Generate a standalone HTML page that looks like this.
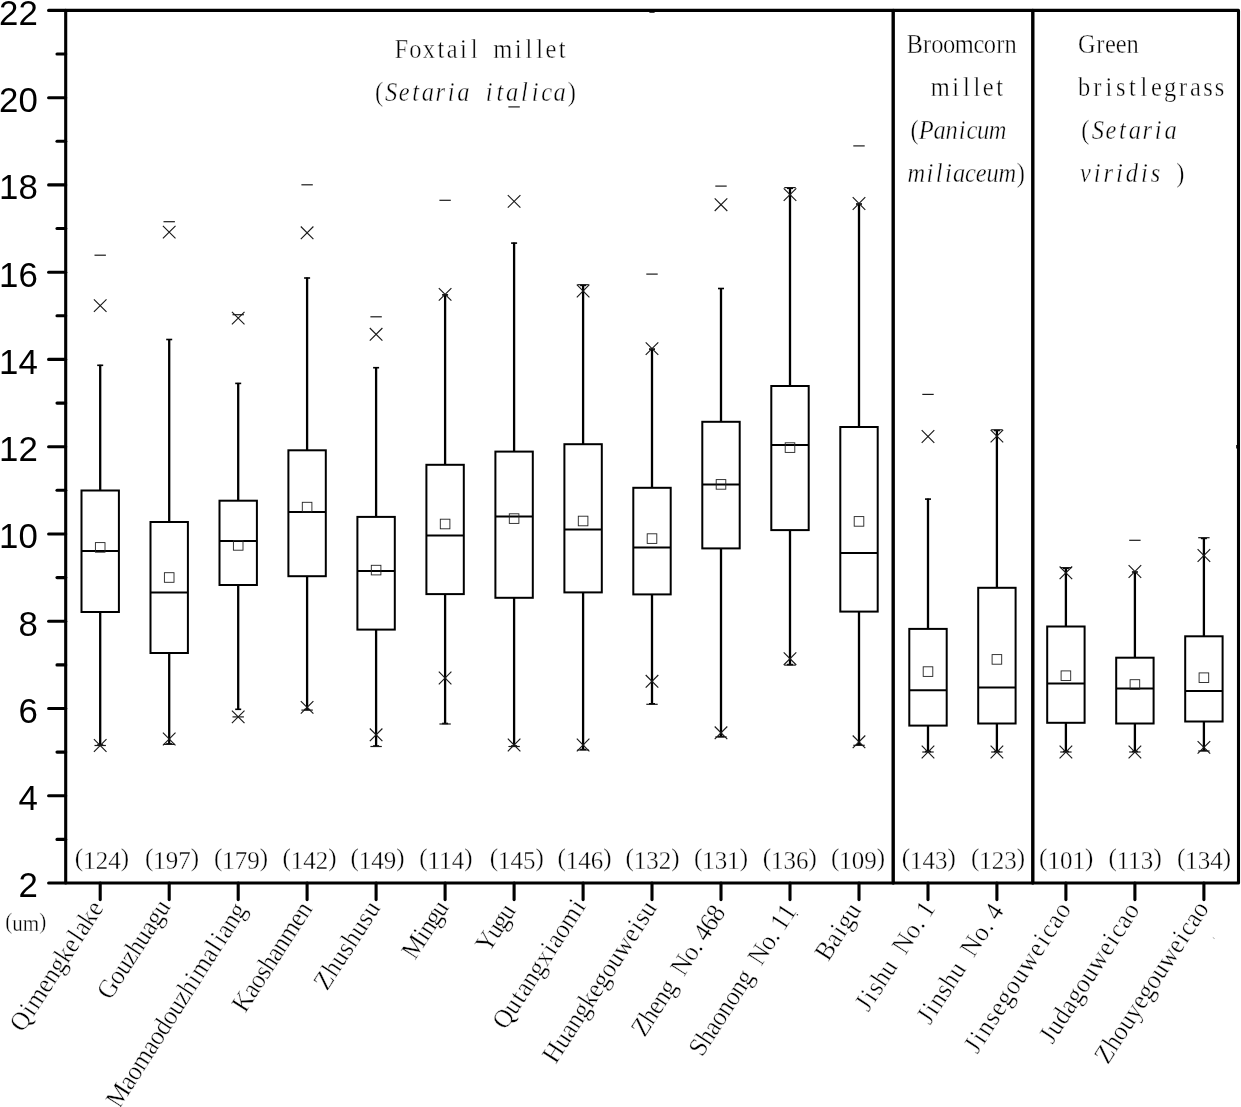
<!DOCTYPE html>
<html lang="en"><head><meta charset="utf-8"><title>Grain size box plot</title>
<style>html,body{margin:0;padding:0;background:#fff}body{width:1241px;height:1107px;overflow:hidden}svg{display:block}.ax{font-family:"Liberation Sans",sans-serif;font-size:34.8px;fill:#000}.sf{font-family:"Liberation Serif",serif;font-size:24px;fill:#000;stroke:#fff;stroke-width:0.35px}.it{font-style:italic}</style></head><body>
<svg width="1241" height="1107" viewBox="0 0 1241 1107">
<rect width="1241" height="1107" fill="#fff"/>
<g stroke="#000" fill="none" stroke-linecap="round" stroke-linejoin="round" stroke-width="3.1">
<rect x="65.7" y="10.4" width="1172.8" height="872.6"/>
<line x1="893.2" y1="10.4" x2="893.2" y2="883.0" stroke-width="3.4"/>
<line x1="1032.8" y1="10.4" x2="1032.8" y2="883.0" stroke-width="3.4"/>
<line x1="48.6" y1="883.0" x2="65.7" y2="883.0"/>
<line x1="57" y1="839.4" x2="65.7" y2="839.4"/>
<line x1="48.6" y1="795.7" x2="65.7" y2="795.7"/>
<line x1="57" y1="752.1" x2="65.7" y2="752.1"/>
<line x1="48.6" y1="708.5" x2="65.7" y2="708.5"/>
<line x1="57" y1="664.9" x2="65.7" y2="664.9"/>
<line x1="48.6" y1="621.2" x2="65.7" y2="621.2"/>
<line x1="57" y1="577.6" x2="65.7" y2="577.6"/>
<line x1="48.6" y1="534.0" x2="65.7" y2="534.0"/>
<line x1="57" y1="490.3" x2="65.7" y2="490.3"/>
<line x1="48.6" y1="446.7" x2="65.7" y2="446.7"/>
<line x1="57" y1="403.1" x2="65.7" y2="403.1"/>
<line x1="48.6" y1="359.4" x2="65.7" y2="359.4"/>
<line x1="57" y1="315.8" x2="65.7" y2="315.8"/>
<line x1="48.6" y1="272.2" x2="65.7" y2="272.2"/>
<line x1="57" y1="228.5" x2="65.7" y2="228.5"/>
<line x1="48.6" y1="184.9" x2="65.7" y2="184.9"/>
<line x1="57" y1="141.3" x2="65.7" y2="141.3"/>
<line x1="48.6" y1="97.7" x2="65.7" y2="97.7"/>
<line x1="57" y1="54.0" x2="65.7" y2="54.0"/>
<line x1="48.6" y1="10.4" x2="65.7" y2="10.4"/>
<line x1="100.2" y1="883.0" x2="100.2" y2="899.6"/>
<line x1="169.2" y1="883.0" x2="169.2" y2="899.6"/>
<line x1="238.2" y1="883.0" x2="238.2" y2="899.6"/>
<line x1="307.1" y1="883.0" x2="307.1" y2="899.6"/>
<line x1="376.1" y1="883.0" x2="376.1" y2="899.6"/>
<line x1="445.1" y1="883.0" x2="445.1" y2="899.6"/>
<line x1="514.1" y1="883.0" x2="514.1" y2="899.6"/>
<line x1="583.1" y1="883.0" x2="583.1" y2="899.6"/>
<line x1="652.0" y1="883.0" x2="652.0" y2="899.6"/>
<line x1="721.0" y1="883.0" x2="721.0" y2="899.6"/>
<line x1="790.0" y1="883.0" x2="790.0" y2="899.6"/>
<line x1="859.0" y1="883.0" x2="859.0" y2="899.6"/>
<line x1="928.0" y1="883.0" x2="928.0" y2="899.6"/>
<line x1="996.9" y1="883.0" x2="996.9" y2="899.6"/>
<line x1="1065.9" y1="883.0" x2="1065.9" y2="899.6"/>
<line x1="1134.9" y1="883.0" x2="1134.9" y2="899.6"/>
<line x1="1203.9" y1="883.0" x2="1203.9" y2="899.6"/>
<line x1="1236.2" y1="446.7" x2="1237.2" y2="446.7" stroke-width="3.4" stroke-linecap="butt"/>
</g>
<g stroke="#000" fill="none">
<line x1="100.2" y1="364.8" x2="100.2" y2="490.5" stroke-width="2.3"/>
<line x1="100.2" y1="612.0" x2="100.2" y2="745.5" stroke-width="2.3"/>
<line x1="97.2" y1="365.3" x2="103.2" y2="365.3" stroke-width="1.6"/>
<line x1="97.2" y1="745.0" x2="103.2" y2="745.0" stroke-width="1.6"/>
<rect x="81.5" y="490.5" width="37.4" height="121.5" stroke-width="2"/>
<line x1="81.5" y1="551.1" x2="118.9" y2="551.1" stroke-width="2"/>
<rect x="95.4" y="542.6" width="9.6" height="9.6" stroke-width="0.9" stroke="#222"/>
<path d="M93.9 299.3 l12.6 12.6 m0 -12.6 l-12.6 12.6" stroke-width="1.15" stroke="#1a1a1a"/>
<path d="M93.9 739.2 l12.6 12.6 m0 -12.6 l-12.6 12.6" stroke-width="1.15" stroke="#1a1a1a"/>
<line x1="94.5" y1="745.5" x2="105.9" y2="745.5" stroke-width="1.2" stroke="#1a1a1a"/>
<line x1="94.5" y1="255.2" x2="105.9" y2="255.2" stroke-width="1.2" stroke="#1a1a1a"/>
<line x1="169.2" y1="339.0" x2="169.2" y2="522.0" stroke-width="2.3"/>
<line x1="169.2" y1="653.0" x2="169.2" y2="744.4" stroke-width="2.3"/>
<line x1="166.2" y1="339.5" x2="172.2" y2="339.5" stroke-width="1.6"/>
<line x1="166.2" y1="743.9" x2="172.2" y2="743.9" stroke-width="1.6"/>
<rect x="150.5" y="522.0" width="37.4" height="131.0" stroke-width="2"/>
<line x1="150.5" y1="592.4" x2="187.9" y2="592.4" stroke-width="2"/>
<rect x="164.4" y="572.7" width="9.6" height="9.6" stroke-width="0.9" stroke="#222"/>
<path d="M162.9 225.8 l12.6 12.6 m0 -12.6 l-12.6 12.6" stroke-width="1.15" stroke="#1a1a1a"/>
<path d="M162.9 732.7 l12.6 12.6 m0 -12.6 l-12.6 12.6" stroke-width="1.15" stroke="#1a1a1a"/>
<line x1="163.5" y1="744.4" x2="174.9" y2="744.4" stroke-width="1.2" stroke="#1a1a1a"/>
<line x1="163.5" y1="221.7" x2="174.9" y2="221.7" stroke-width="1.2" stroke="#1a1a1a"/>
<line x1="238.2" y1="382.9" x2="238.2" y2="500.7" stroke-width="2.3"/>
<line x1="238.2" y1="585.0" x2="238.2" y2="709.8" stroke-width="2.3"/>
<line x1="235.2" y1="383.4" x2="241.2" y2="383.4" stroke-width="1.6"/>
<line x1="235.2" y1="709.3" x2="241.2" y2="709.3" stroke-width="1.6"/>
<rect x="219.5" y="500.7" width="37.4" height="84.3" stroke-width="2"/>
<line x1="219.5" y1="541.0" x2="256.9" y2="541.0" stroke-width="2"/>
<rect x="233.4" y="540.6" width="9.6" height="9.6" stroke-width="0.9" stroke="#222"/>
<path d="M231.9 311.8 l12.6 12.6 m0 -12.6 l-12.6 12.6" stroke-width="1.15" stroke="#1a1a1a"/>
<path d="M231.9 710.6 l12.6 12.6 m0 -12.6 l-12.6 12.6" stroke-width="1.15" stroke="#1a1a1a"/>
<line x1="232.5" y1="716.9" x2="243.9" y2="716.9" stroke-width="1.2" stroke="#1a1a1a"/>
<line x1="232.5" y1="314.7" x2="243.9" y2="314.7" stroke-width="1.2" stroke="#1a1a1a"/>
<line x1="307.1" y1="277.5" x2="307.1" y2="450.3" stroke-width="2.3"/>
<line x1="307.1" y1="576.2" x2="307.1" y2="710.1" stroke-width="2.3"/>
<line x1="304.1" y1="278.0" x2="310.1" y2="278.0" stroke-width="1.6"/>
<line x1="304.1" y1="709.6" x2="310.1" y2="709.6" stroke-width="1.6"/>
<rect x="288.4" y="450.3" width="37.4" height="125.9" stroke-width="2"/>
<line x1="288.4" y1="511.9" x2="325.8" y2="511.9" stroke-width="2"/>
<rect x="302.3" y="502.3" width="9.6" height="9.6" stroke-width="0.9" stroke="#222"/>
<path d="M300.8 226.5 l12.6 12.6 m0 -12.6 l-12.6 12.6" stroke-width="1.15" stroke="#1a1a1a"/>
<path d="M300.8 701.1 l12.6 12.6 m0 -12.6 l-12.6 12.6" stroke-width="1.15" stroke="#1a1a1a"/>
<line x1="301.4" y1="710.1" x2="312.8" y2="710.1" stroke-width="1.2" stroke="#1a1a1a"/>
<line x1="301.4" y1="184.8" x2="312.8" y2="184.8" stroke-width="1.2" stroke="#1a1a1a"/>
<line x1="376.1" y1="367.2" x2="376.1" y2="516.9" stroke-width="2.3"/>
<line x1="376.1" y1="629.6" x2="376.1" y2="746.5" stroke-width="2.3"/>
<line x1="373.1" y1="367.7" x2="379.1" y2="367.7" stroke-width="1.6"/>
<line x1="373.1" y1="746.0" x2="379.1" y2="746.0" stroke-width="1.6"/>
<rect x="357.4" y="516.9" width="37.4" height="112.7" stroke-width="2"/>
<line x1="357.4" y1="571.1" x2="394.8" y2="571.1" stroke-width="2"/>
<rect x="371.3" y="565.3" width="9.6" height="9.6" stroke-width="0.9" stroke="#222"/>
<path d="M369.8 328.0 l12.6 12.6 m0 -12.6 l-12.6 12.6" stroke-width="1.15" stroke="#1a1a1a"/>
<path d="M369.8 728.5 l12.6 12.6 m0 -12.6 l-12.6 12.6" stroke-width="1.15" stroke="#1a1a1a"/>
<line x1="370.4" y1="746.5" x2="381.8" y2="746.5" stroke-width="1.2" stroke="#1a1a1a"/>
<line x1="370.4" y1="316.8" x2="381.8" y2="316.8" stroke-width="1.2" stroke="#1a1a1a"/>
<line x1="445.1" y1="294.4" x2="445.1" y2="464.8" stroke-width="2.3"/>
<line x1="445.1" y1="594.1" x2="445.1" y2="724.0" stroke-width="2.3"/>
<line x1="442.1" y1="294.9" x2="448.1" y2="294.9" stroke-width="1.6"/>
<line x1="442.1" y1="723.5" x2="448.1" y2="723.5" stroke-width="1.6"/>
<rect x="426.4" y="464.8" width="37.4" height="129.3" stroke-width="2"/>
<line x1="426.4" y1="535.5" x2="463.8" y2="535.5" stroke-width="2"/>
<rect x="440.3" y="519.2" width="9.6" height="9.6" stroke-width="0.9" stroke="#222"/>
<path d="M438.8 288.1 l12.6 12.6 m0 -12.6 l-12.6 12.6" stroke-width="1.15" stroke="#1a1a1a"/>
<path d="M438.8 671.7 l12.6 12.6 m0 -12.6 l-12.6 12.6" stroke-width="1.15" stroke="#1a1a1a"/>
<line x1="439.4" y1="724.0" x2="450.8" y2="724.0" stroke-width="1.2" stroke="#1a1a1a"/>
<line x1="439.4" y1="200.3" x2="450.8" y2="200.3" stroke-width="1.2" stroke="#1a1a1a"/>
<line x1="514.1" y1="242.6" x2="514.1" y2="451.6" stroke-width="2.3"/>
<line x1="514.1" y1="597.8" x2="514.1" y2="746.5" stroke-width="2.3"/>
<line x1="511.1" y1="243.1" x2="517.1" y2="243.1" stroke-width="1.6"/>
<line x1="511.1" y1="746.0" x2="517.1" y2="746.0" stroke-width="1.6"/>
<rect x="495.4" y="451.6" width="37.4" height="146.2" stroke-width="2"/>
<line x1="495.4" y1="516.6" x2="532.8" y2="516.6" stroke-width="2"/>
<rect x="509.3" y="513.8" width="9.6" height="9.6" stroke-width="0.9" stroke="#222"/>
<path d="M507.8 195.1 l12.6 12.6 m0 -12.6 l-12.6 12.6" stroke-width="1.15" stroke="#1a1a1a"/>
<path d="M507.8 738.7 l12.6 12.6 m0 -12.6 l-12.6 12.6" stroke-width="1.15" stroke="#1a1a1a"/>
<line x1="508.4" y1="746.5" x2="519.8" y2="746.5" stroke-width="1.2" stroke="#1a1a1a"/>
<line x1="508.4" y1="106.9" x2="519.8" y2="106.9" stroke-width="1.2" stroke="#1a1a1a"/>
<line x1="583.1" y1="284.9" x2="583.1" y2="444.2" stroke-width="2.3"/>
<line x1="583.1" y1="592.4" x2="583.1" y2="750.0" stroke-width="2.3"/>
<line x1="580.1" y1="285.4" x2="586.1" y2="285.4" stroke-width="1.6"/>
<line x1="580.1" y1="749.5" x2="586.1" y2="749.5" stroke-width="1.6"/>
<rect x="564.4" y="444.2" width="37.4" height="148.2" stroke-width="2"/>
<line x1="564.4" y1="529.4" x2="601.8" y2="529.4" stroke-width="2"/>
<rect x="578.3" y="516.2" width="9.6" height="9.6" stroke-width="0.9" stroke="#222"/>
<path d="M576.8 284.7 l12.6 12.6 m0 -12.6 l-12.6 12.6" stroke-width="1.15" stroke="#1a1a1a"/>
<path d="M576.8 738.7 l12.6 12.6 m0 -12.6 l-12.6 12.6" stroke-width="1.15" stroke="#1a1a1a"/>
<line x1="577.4" y1="750.0" x2="588.8" y2="750.0" stroke-width="1.2" stroke="#1a1a1a"/>
<line x1="577.4" y1="284.7" x2="588.8" y2="284.7" stroke-width="1.2" stroke="#1a1a1a"/>
<line x1="652.0" y1="348.6" x2="652.0" y2="487.8" stroke-width="2.3"/>
<line x1="652.0" y1="594.4" x2="652.0" y2="704.3" stroke-width="2.3"/>
<line x1="649.0" y1="349.1" x2="655.0" y2="349.1" stroke-width="1.6"/>
<line x1="649.0" y1="703.8" x2="655.0" y2="703.8" stroke-width="1.6"/>
<rect x="633.3" y="487.8" width="37.4" height="106.6" stroke-width="2"/>
<line x1="633.3" y1="547.4" x2="670.7" y2="547.4" stroke-width="2"/>
<rect x="647.2" y="533.8" width="9.6" height="9.6" stroke-width="0.9" stroke="#222"/>
<path d="M645.7 342.3 l12.6 12.6 m0 -12.6 l-12.6 12.6" stroke-width="1.15" stroke="#1a1a1a"/>
<path d="M645.7 675.0 l12.6 12.6 m0 -12.6 l-12.6 12.6" stroke-width="1.15" stroke="#1a1a1a"/>
<line x1="646.3" y1="704.3" x2="657.7" y2="704.3" stroke-width="1.2" stroke="#1a1a1a"/>
<line x1="646.3" y1="274.1" x2="657.7" y2="274.1" stroke-width="1.2" stroke="#1a1a1a"/>
<line x1="721.0" y1="288.0" x2="721.0" y2="421.8" stroke-width="2.3"/>
<line x1="721.0" y1="548.4" x2="721.0" y2="737.0" stroke-width="2.3"/>
<line x1="718.0" y1="288.5" x2="724.0" y2="288.5" stroke-width="1.6"/>
<line x1="718.0" y1="736.5" x2="724.0" y2="736.5" stroke-width="1.6"/>
<rect x="702.3" y="421.8" width="37.4" height="126.6" stroke-width="2"/>
<line x1="702.3" y1="484.4" x2="739.7" y2="484.4" stroke-width="2"/>
<rect x="716.2" y="479.6" width="9.6" height="9.6" stroke-width="0.9" stroke="#222"/>
<path d="M714.7 198.4 l12.6 12.6 m0 -12.6 l-12.6 12.6" stroke-width="1.15" stroke="#1a1a1a"/>
<path d="M714.7 726.5 l12.6 12.6 m0 -12.6 l-12.6 12.6" stroke-width="1.15" stroke="#1a1a1a"/>
<line x1="715.3" y1="737.0" x2="726.7" y2="737.0" stroke-width="1.2" stroke="#1a1a1a"/>
<line x1="715.3" y1="186.1" x2="726.7" y2="186.1" stroke-width="1.2" stroke="#1a1a1a"/>
<line x1="790.0" y1="187.8" x2="790.0" y2="386.0" stroke-width="2.3"/>
<line x1="790.0" y1="530.1" x2="790.0" y2="665.1" stroke-width="2.3"/>
<line x1="787.0" y1="188.3" x2="793.0" y2="188.3" stroke-width="1.6"/>
<line x1="787.0" y1="664.6" x2="793.0" y2="664.6" stroke-width="1.6"/>
<rect x="771.3" y="386.0" width="37.4" height="144.1" stroke-width="2"/>
<line x1="771.3" y1="444.9" x2="808.7" y2="444.9" stroke-width="2"/>
<rect x="785.2" y="442.8" width="9.6" height="9.6" stroke-width="0.9" stroke="#222"/>
<path d="M783.7 188.3 l12.6 12.6 m0 -12.6 l-12.6 12.6" stroke-width="1.15" stroke="#1a1a1a"/>
<path d="M783.7 652.4 l12.6 12.6 m0 -12.6 l-12.6 12.6" stroke-width="1.15" stroke="#1a1a1a"/>
<line x1="784.3" y1="665.1" x2="795.7" y2="665.1" stroke-width="1.2" stroke="#1a1a1a"/>
<line x1="784.3" y1="187.6" x2="795.7" y2="187.6" stroke-width="1.2" stroke="#1a1a1a"/>
<line x1="859.0" y1="203.5" x2="859.0" y2="427.0" stroke-width="2.3"/>
<line x1="859.0" y1="611.6" x2="859.0" y2="745.3" stroke-width="2.3"/>
<line x1="856.0" y1="204.0" x2="862.0" y2="204.0" stroke-width="1.6"/>
<line x1="856.0" y1="744.8" x2="862.0" y2="744.8" stroke-width="1.6"/>
<rect x="840.3" y="427.0" width="37.4" height="184.6" stroke-width="2"/>
<line x1="840.3" y1="552.9" x2="877.7" y2="552.9" stroke-width="2"/>
<rect x="854.2" y="516.6" width="9.6" height="9.6" stroke-width="0.9" stroke="#222"/>
<path d="M852.7 197.2 l12.6 12.6 m0 -12.6 l-12.6 12.6" stroke-width="1.15" stroke="#1a1a1a"/>
<path d="M852.7 735.5 l12.6 12.6 m0 -12.6 l-12.6 12.6" stroke-width="1.15" stroke="#1a1a1a"/>
<line x1="853.3" y1="745.3" x2="864.7" y2="745.3" stroke-width="1.2" stroke="#1a1a1a"/>
<line x1="853.3" y1="145.9" x2="864.7" y2="145.9" stroke-width="1.2" stroke="#1a1a1a"/>
<line x1="928.0" y1="498.6" x2="928.0" y2="628.9" stroke-width="2.3"/>
<line x1="928.0" y1="725.6" x2="928.0" y2="752.0" stroke-width="2.3"/>
<line x1="925.0" y1="499.1" x2="931.0" y2="499.1" stroke-width="1.6"/>
<line x1="925.0" y1="751.5" x2="931.0" y2="751.5" stroke-width="1.6"/>
<rect x="909.3" y="628.9" width="37.4" height="96.7" stroke-width="2"/>
<line x1="909.3" y1="690.3" x2="946.7" y2="690.3" stroke-width="2"/>
<rect x="923.2" y="666.8" width="9.6" height="9.6" stroke-width="0.9" stroke="#222"/>
<path d="M921.7 430.2 l12.6 12.6 m0 -12.6 l-12.6 12.6" stroke-width="1.15" stroke="#1a1a1a"/>
<path d="M921.7 745.7 l12.6 12.6 m0 -12.6 l-12.6 12.6" stroke-width="1.15" stroke="#1a1a1a"/>
<line x1="922.3" y1="752.0" x2="933.7" y2="752.0" stroke-width="1.2" stroke="#1a1a1a"/>
<line x1="922.3" y1="394.4" x2="933.7" y2="394.4" stroke-width="1.2" stroke="#1a1a1a"/>
<line x1="996.9" y1="430.0" x2="996.9" y2="587.8" stroke-width="2.3"/>
<line x1="996.9" y1="723.5" x2="996.9" y2="752.0" stroke-width="2.3"/>
<line x1="993.9" y1="430.5" x2="999.9" y2="430.5" stroke-width="1.6"/>
<line x1="993.9" y1="751.5" x2="999.9" y2="751.5" stroke-width="1.6"/>
<rect x="978.2" y="587.8" width="37.4" height="135.7" stroke-width="2"/>
<line x1="978.2" y1="687.6" x2="1015.6" y2="687.6" stroke-width="2"/>
<rect x="992.1" y="654.6" width="9.6" height="9.6" stroke-width="0.9" stroke="#222"/>
<path d="M990.6 429.8 l12.6 12.6 m0 -12.6 l-12.6 12.6" stroke-width="1.15" stroke="#1a1a1a"/>
<path d="M990.6 745.7 l12.6 12.6 m0 -12.6 l-12.6 12.6" stroke-width="1.15" stroke="#1a1a1a"/>
<line x1="991.2" y1="752.0" x2="1002.6" y2="752.0" stroke-width="1.2" stroke="#1a1a1a"/>
<line x1="991.2" y1="429.8" x2="1002.6" y2="429.8" stroke-width="1.2" stroke="#1a1a1a"/>
<line x1="1065.9" y1="567.8" x2="1065.9" y2="626.5" stroke-width="2.3"/>
<line x1="1065.9" y1="722.8" x2="1065.9" y2="752.0" stroke-width="2.3"/>
<line x1="1062.9" y1="568.3" x2="1068.9" y2="568.3" stroke-width="1.6"/>
<line x1="1062.9" y1="751.5" x2="1068.9" y2="751.5" stroke-width="1.6"/>
<rect x="1047.2" y="626.5" width="37.4" height="96.3" stroke-width="2"/>
<line x1="1047.2" y1="683.5" x2="1084.6" y2="683.5" stroke-width="2"/>
<rect x="1061.1" y="670.9" width="9.6" height="9.6" stroke-width="0.9" stroke="#222"/>
<path d="M1059.6 566.5 l12.6 12.6 m0 -12.6 l-12.6 12.6" stroke-width="1.15" stroke="#1a1a1a"/>
<path d="M1059.6 745.7 l12.6 12.6 m0 -12.6 l-12.6 12.6" stroke-width="1.15" stroke="#1a1a1a"/>
<line x1="1060.2" y1="752.0" x2="1071.6" y2="752.0" stroke-width="1.2" stroke="#1a1a1a"/>
<line x1="1060.2" y1="567.6" x2="1071.6" y2="567.6" stroke-width="1.2" stroke="#1a1a1a"/>
<line x1="1134.9" y1="571.5" x2="1134.9" y2="657.7" stroke-width="2.3"/>
<line x1="1134.9" y1="723.5" x2="1134.9" y2="752.0" stroke-width="2.3"/>
<line x1="1131.9" y1="572.0" x2="1137.9" y2="572.0" stroke-width="1.6"/>
<line x1="1131.9" y1="751.5" x2="1137.9" y2="751.5" stroke-width="1.6"/>
<rect x="1116.2" y="657.7" width="37.4" height="65.8" stroke-width="2"/>
<line x1="1116.2" y1="688.6" x2="1153.6" y2="688.6" stroke-width="2"/>
<rect x="1130.1" y="679.7" width="9.6" height="9.6" stroke-width="0.9" stroke="#222"/>
<path d="M1128.6 565.2 l12.6 12.6 m0 -12.6 l-12.6 12.6" stroke-width="1.15" stroke="#1a1a1a"/>
<path d="M1128.6 745.7 l12.6 12.6 m0 -12.6 l-12.6 12.6" stroke-width="1.15" stroke="#1a1a1a"/>
<line x1="1129.2" y1="752.0" x2="1140.6" y2="752.0" stroke-width="1.2" stroke="#1a1a1a"/>
<line x1="1129.2" y1="540.3" x2="1140.6" y2="540.3" stroke-width="1.2" stroke="#1a1a1a"/>
<line x1="1203.9" y1="537.9" x2="1203.9" y2="636.3" stroke-width="2.3"/>
<line x1="1203.9" y1="721.5" x2="1203.9" y2="751.0" stroke-width="2.3"/>
<line x1="1200.9" y1="538.4" x2="1206.9" y2="538.4" stroke-width="1.6"/>
<line x1="1200.9" y1="750.5" x2="1206.9" y2="750.5" stroke-width="1.6"/>
<rect x="1185.2" y="636.3" width="37.4" height="85.2" stroke-width="2"/>
<line x1="1185.2" y1="691.0" x2="1222.6" y2="691.0" stroke-width="2"/>
<rect x="1199.1" y="672.9" width="9.6" height="9.6" stroke-width="0.9" stroke="#222"/>
<path d="M1197.6 549.2 l12.6 12.6 m0 -12.6 l-12.6 12.6" stroke-width="1.15" stroke="#1a1a1a"/>
<path d="M1197.6 741.1 l12.6 12.6 m0 -12.6 l-12.6 12.6" stroke-width="1.15" stroke="#1a1a1a"/>
<line x1="1198.2" y1="751.0" x2="1209.6" y2="751.0" stroke-width="1.2" stroke="#1a1a1a"/>
<line x1="1198.2" y1="537.7" x2="1209.6" y2="537.7" stroke-width="1.2" stroke="#1a1a1a"/>
</g>
<text class="ax" x="37.8" y="897.4" text-anchor="end">2</text>
<text class="ax" x="37.8" y="810.1" text-anchor="end">4</text>
<text class="ax" x="37.8" y="722.9" text-anchor="end">6</text>
<text class="ax" x="37.8" y="635.6" text-anchor="end">8</text>
<text class="ax" x="37.8" y="548.4" text-anchor="end">10</text>
<text class="ax" x="37.8" y="461.1" text-anchor="end">12</text>
<text class="ax" x="37.8" y="373.8" text-anchor="end">14</text>
<text class="ax" x="37.8" y="286.6" text-anchor="end">16</text>
<text class="ax" x="37.8" y="199.3" text-anchor="end">18</text>
<text class="ax" x="37.8" y="112.1" text-anchor="end">20</text>
<text class="ax" x="37.8" y="24.8" text-anchor="end">22</text>
<text class="sf" style="font-size:25px" x="101.9" y="868.6" text-anchor="middle"><tspan dy="-2.2">(</tspan><tspan dy="2.2">124</tspan><tspan dy="-2.2">)</tspan></text>
<text class="sf" style="font-size:25px" x="172.1" y="868.6" text-anchor="middle"><tspan dy="-2.2">(</tspan><tspan dy="2.2">197</tspan><tspan dy="-2.2">)</tspan></text>
<text class="sf" style="font-size:25px" x="241.0" y="868.6" text-anchor="middle"><tspan dy="-2.2">(</tspan><tspan dy="2.2">179</tspan><tspan dy="-2.2">)</tspan></text>
<text class="sf" style="font-size:25px" x="309.5" y="868.6" text-anchor="middle"><tspan dy="-2.2">(</tspan><tspan dy="2.2">142</tspan><tspan dy="-2.2">)</tspan></text>
<text class="sf" style="font-size:25px" x="377.5" y="868.6" text-anchor="middle"><tspan dy="-2.2">(</tspan><tspan dy="2.2">149</tspan><tspan dy="-2.2">)</tspan></text>
<text class="sf" style="font-size:25px" x="445.9" y="868.6" text-anchor="middle"><tspan dy="-2.2">(</tspan><tspan dy="2.2">114</tspan><tspan dy="-2.2">)</tspan></text>
<text class="sf" style="font-size:25px" x="516.8" y="868.6" text-anchor="middle"><tspan dy="-2.2">(</tspan><tspan dy="2.2">145</tspan><tspan dy="-2.2">)</tspan></text>
<text class="sf" style="font-size:25px" x="584.5" y="868.6" text-anchor="middle"><tspan dy="-2.2">(</tspan><tspan dy="2.2">146</tspan><tspan dy="-2.2">)</tspan></text>
<text class="sf" style="font-size:25px" x="652.6" y="868.6" text-anchor="middle"><tspan dy="-2.2">(</tspan><tspan dy="2.2">132</tspan><tspan dy="-2.2">)</tspan></text>
<text class="sf" style="font-size:25px" x="721.1" y="868.6" text-anchor="middle"><tspan dy="-2.2">(</tspan><tspan dy="2.2">131</tspan><tspan dy="-2.2">)</tspan></text>
<text class="sf" style="font-size:25px" x="789.8" y="868.6" text-anchor="middle"><tspan dy="-2.2">(</tspan><tspan dy="2.2">136</tspan><tspan dy="-2.2">)</tspan></text>
<text class="sf" style="font-size:25px" x="858.0" y="868.6" text-anchor="middle"><tspan dy="-2.2">(</tspan><tspan dy="2.2">109</tspan><tspan dy="-2.2">)</tspan></text>
<text class="sf" style="font-size:25px" x="928.8" y="868.6" text-anchor="middle"><tspan dy="-2.2">(</tspan><tspan dy="2.2">143</tspan><tspan dy="-2.2">)</tspan></text>
<text class="sf" style="font-size:25px" x="998.0" y="868.6" text-anchor="middle"><tspan dy="-2.2">(</tspan><tspan dy="2.2">123</tspan><tspan dy="-2.2">)</tspan></text>
<text class="sf" style="font-size:25px" x="1066.2" y="868.6" text-anchor="middle"><tspan dy="-2.2">(</tspan><tspan dy="2.2">101</tspan><tspan dy="-2.2">)</tspan></text>
<text class="sf" style="font-size:25px" x="1135.1" y="868.6" text-anchor="middle"><tspan dy="-2.2">(</tspan><tspan dy="2.2">113</tspan><tspan dy="-2.2">)</tspan></text>
<text class="sf" style="font-size:25px" x="1204.0" y="868.6" text-anchor="middle"><tspan dy="-2.2">(</tspan><tspan dy="2.2">134</tspan><tspan dy="-2.2">)</tspan></text>
<text class="sf" x="5.2" y="931" textLength="41" lengthAdjust="spacingAndGlyphs"><tspan dy="-2">(</tspan><tspan dy="2">um</tspan><tspan dy="-2">)</tspan></text>
<text class="sf" style="font-size:24.5px" transform="translate(0 57.5) scale(1 1.09)" y="0" x="394.57 409.33 422.71 437.44 446.73 460.08 470.71 483.04 493.33 514.87 525.51 536.14 545.43 558.78">Foxtail millet</text>
<text class="sf" style="font-size:24.5px" transform="translate(0 100.8) scale(1 1.09)" y="0" x="374.95 385.13 398.73 412.30 421.80 435.40 447.64 457.14 473.78 485.64 496.49 506.00 520.94 531.79 541.30 553.52 567.80">(<tspan class="it">Setaria italica</tspan>)</text>
<text class="sf" style="font-size:24.5px" transform="translate(0 53.3) scale(1 1.09)" y="0" x="906.46 922.98 931.33 943.09 954.86 973.43 983.81 996.25 1004.59">Broomcorn</text>
<text class="sf" style="font-size:24.5px" transform="translate(0 95.7) scale(1 1.09)" y="0" x="930.86 952.37 962.98 973.59 982.86 996.19">millet</text>
<text class="sf" style="font-size:24.5px" transform="translate(0 139.1) scale(1 1.09)" y="0" x="910.40 918.88 933.50 945.40 958.65 966.45 976.98 988.88">(<tspan class="it">Panicum</tspan></text>
<text class="sf" style="font-size:24.5px" transform="translate(0 181.5) scale(1 1.09)" y="0" x="907.61 926.46 935.78 945.10 953.07 965.13 975.82 986.52 998.58 1016.76"><tspan class="it">miliaceum</tspan>)</text>
<text class="sf" style="font-size:24.5px" transform="translate(0 53.3) scale(1 1.09)" y="0" x="1077.95 1096.22 1104.95 1115.72 1126.50">Green</text>
<text class="sf" style="font-size:24.5px" transform="translate(0 95.7) scale(1 1.09)" y="0" x="1078.09 1093.19 1105.54 1115.88 1128.94 1140.62 1150.95 1164.00 1179.10 1190.11 1203.16 1214.88">bristlegrass</text>
<text class="sf" style="font-size:24.5px" transform="translate(0 139.1) scale(1 1.09)" y="0" x="1081.32 1091.64 1105.38 1119.10 1128.74 1142.48 1154.86 1164.50">(<tspan class="it">Setaria</tspan></text>
<text class="sf" style="font-size:24.5px" transform="translate(0 181.5) scale(1 1.09)" y="0" x="1079.99 1093.81 1103.55 1116.02 1125.76 1140.95 1150.69 1164.85 1176.28"><tspan class="it">viridis</tspan> )</text>
<text class="sf" style="font-size:25px" transform="translate(104.3 908.0) rotate(-57.0) scale(1 1.07)" y="0" x="-149.46 -130.25 -122.15 -102.83 -91.86 -79.48 -67.11 -54.73 -42.48 -34.38 -23.41 -11.03">Qimengkelake</text>
<text class="sf" style="font-size:25px" transform="translate(171.3 907.0) rotate(-57.0) scale(1 1.07)" y="0" x="-112.23 -94.53 -82.38 -70.24 -59.50 -47.35 -35.21 -24.47 -12.32">Gouzhuagu</text>
<text class="sf" style="font-size:25px" transform="translate(247.3 910.0) rotate(-57.3) scale(1 1.07)" y="0" x="-236.78 -215.00 -204.35 -192.30 -173.30 -162.66 -150.61 -138.56 -126.51 -114.46 -103.81 -90.49 -82.71 -63.72 -51.79 -42.74 -34.97 -24.32 -12.27">Maomaodouzhimaliang</text>
<text class="sf" style="font-size:25px" transform="translate(313.2 909.0) rotate(-57.0) scale(1 1.07)" y="0" x="-124.80 -107.35 -96.85 -84.96 -75.83 -63.93 -53.44 -41.54 -22.69 -12.20">Kaoshanmen</text>
<text class="sf" style="font-size:25px" transform="translate(381.2 908.0) rotate(-57.0) scale(1 1.07)" y="0" x="-99.45 -83.88 -71.09 -58.29 -48.27 -35.47 -22.67 -12.65">Zhushusu</text>
<text class="sf" style="font-size:25px" transform="translate(449.2 908.0) rotate(-57.0) scale(1 1.07)" y="0" x="-62.95 -40.84 -34.01 -22.91 -11.80">Mingu</text>
<text class="sf" style="font-size:25px" transform="translate(516.2 911.5) rotate(-57.0) scale(1 1.07)" y="0" x="-50.52 -33.90 -22.84 -11.78">Yugu</text>
<text class="sf" style="font-size:25px" transform="translate(587.2 905.5) rotate(-57.0) scale(1 1.07)" y="0" x="-149.45 -131.51 -117.84 -109.72 -98.73 -86.34 -73.95 -60.28 -52.16 -41.18 -28.78 -8.17">Qutangxiaomi</text>
<text class="sf" style="font-size:25px" transform="translate(657.6 908.0) rotate(-57.0) scale(1 1.07)" y="0" x="-186.81 -168.88 -156.51 -145.54 -133.16 -120.79 -108.41 -97.44 -85.07 -72.69 -60.32 -42.39 -30.14 -22.04 -12.44">Huangkegouweisu</text>
<text class="sf" style="font-size:25px" transform="translate(726.1 912.5) rotate(-57.0) scale(1 1.07)" y="0" x="-149.71 -135.06 -123.18 -112.70 -100.82 -85.83 -77.10 -59.67 -47.29 -35.95 -24.07 -12.19">Zheng No.468</text>
<text class="sf" style="font-size:25px" transform="translate(797.1 911.5) rotate(-57.0) scale(1 1.07)" y="0" x="-174.52 -161.06 -149.00 -138.34 -126.28 -114.22 -102.16 -90.10 -74.94 -66.03 -48.41 -35.85 -24.34 -12.28">Shaonong No.11</text>
<text class="sf" style="font-size:25px" transform="translate(862.1 910.0) rotate(-57.0) scale(1 1.07)" y="0" x="-62.25 -45.58 -33.21 -24.99 -12.50">Baigu</text>
<text class="sf" style="font-size:25px" transform="translate(936.1 908.5) rotate(-57.0) scale(1 1.07)" y="0" x="-124.37 -113.11 -104.62 -94.64 -81.88 -66.02 -56.41 -38.10 -24.84 -12.63">Jishu No.1</text>
<text class="sf" style="font-size:25px" transform="translate(1004.5 911.0) rotate(-57.0) scale(1 1.07)" y="0" x="-136.83 -125.60 -117.14 -104.41 -94.45 -81.72 -65.89 -56.31 -38.03 -24.80 -12.62">Jinshu No.4</text>
<text class="sf" style="font-size:25px" transform="translate(1072.0 909.0) rotate(-57.0) scale(1 1.07)" y="0" x="-173.91 -162.13 -153.12 -139.85 -129.34 -117.46 -104.18 -90.90 -77.63 -58.79 -45.64 -36.64 -24.76 -12.89">Jinsegouweicao</text>
<text class="sf" style="font-size:25px" transform="translate(1140.5 909.5) rotate(-57.0) scale(1 1.07)" y="0" x="-161.65 -151.52 -138.62 -125.73 -114.23 -101.33 -88.43 -75.54 -57.08 -44.31 -35.69 -24.19 -12.70">Judagouweicao</text>
<text class="sf" style="font-size:25px" transform="translate(1209.5 908.5) rotate(-57.0) scale(1 1.07)" y="0" x="-186.77 -171.52 -159.06 -146.59 -134.12 -121.65 -110.58 -98.11 -85.64 -73.17 -55.15 -42.81 -34.62 -23.55 -12.48">Zhouyegouweicao</text>
<g stroke="#222" fill="none"><line x1="649.8" y1="12.1" x2="654.2" y2="12.1" stroke-width="1.2" stroke="#000" stroke-linecap="round"/><circle cx="797.4" cy="914.8" r="0.8" fill="#222" stroke="none"/><line x1="1212.8" y1="937.5" x2="1214.6" y2="938.6" stroke="#999" stroke-width="0.9"/></g>
</svg></body></html>
